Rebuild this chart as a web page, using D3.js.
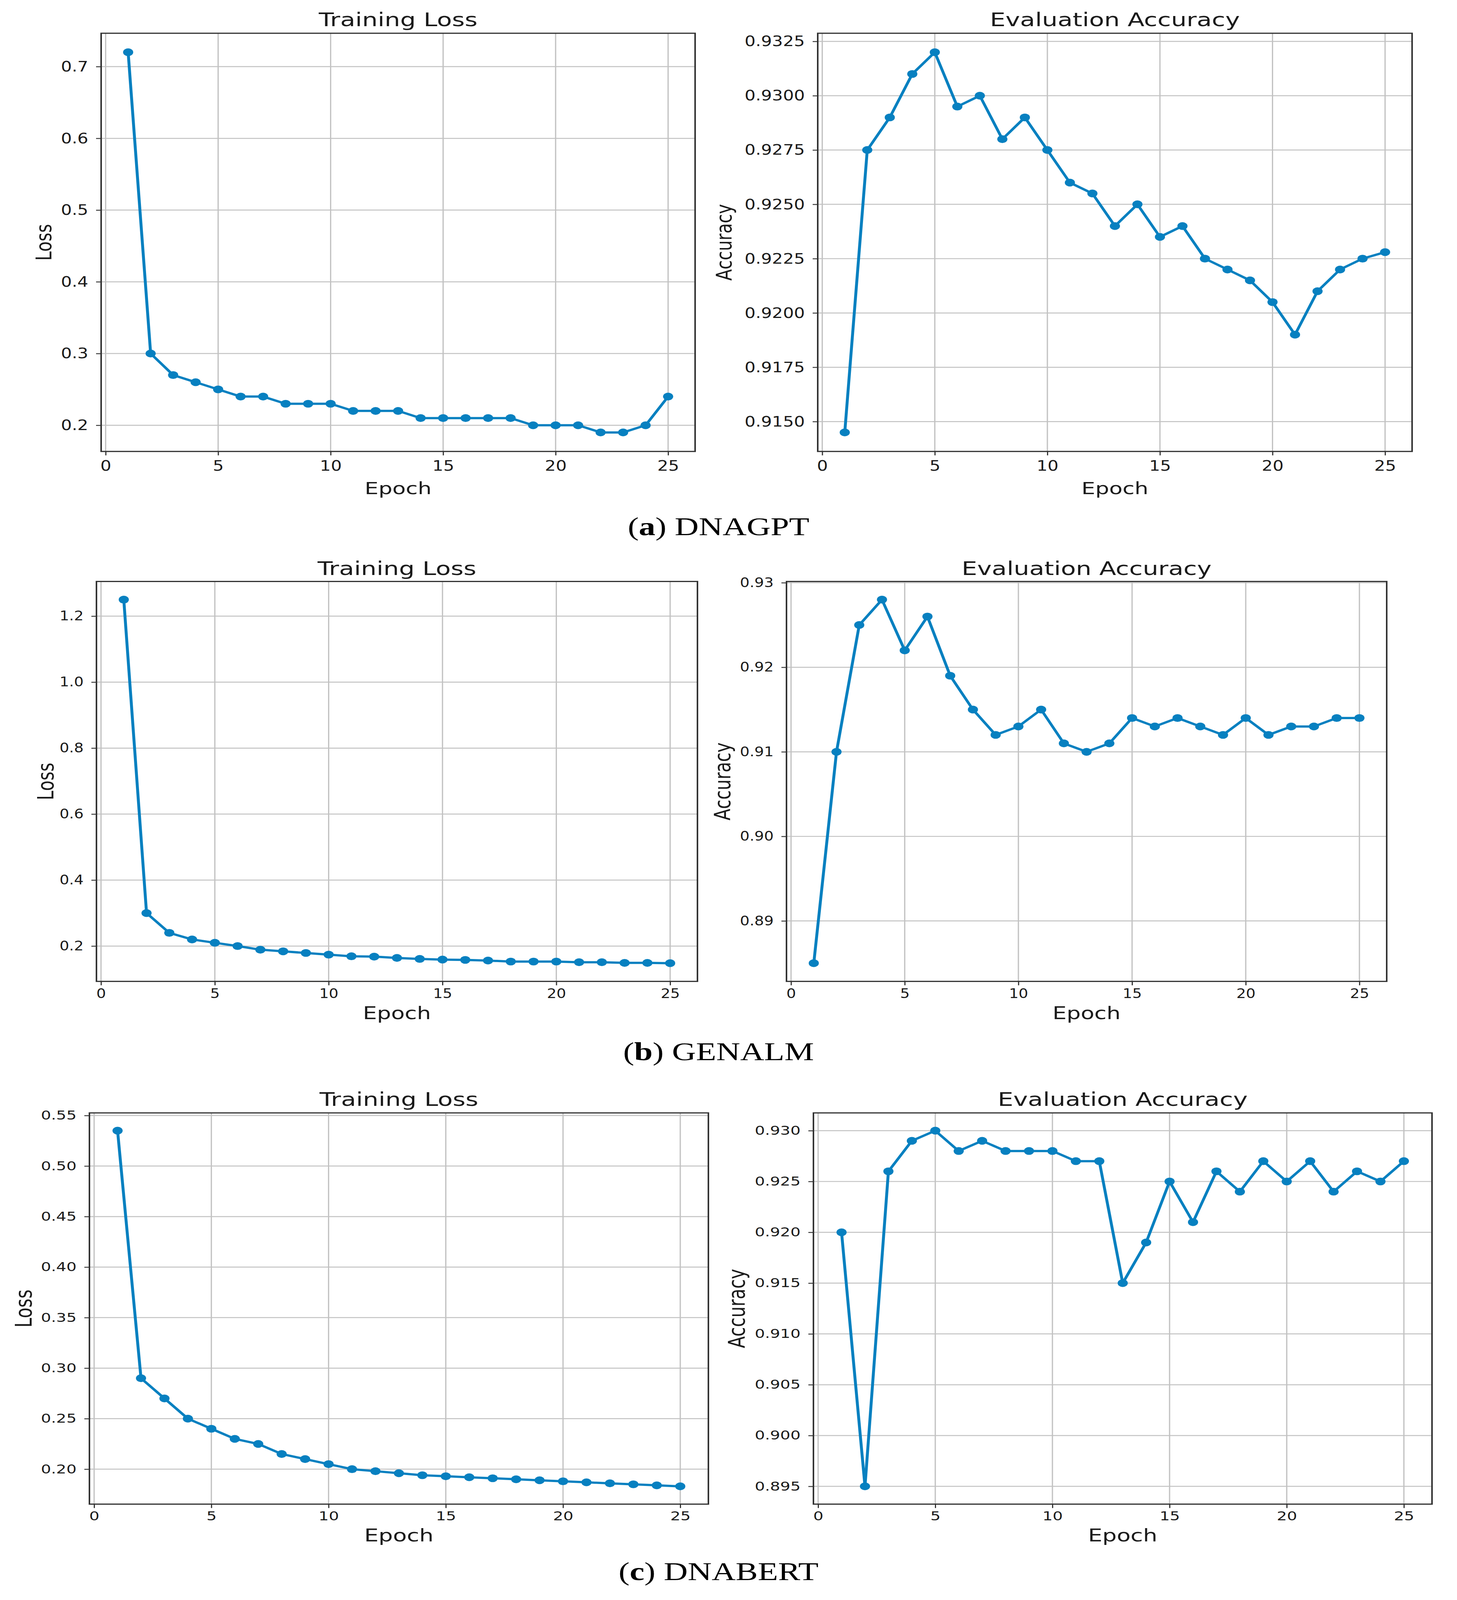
<!DOCTYPE html>
<html>
<head>
<meta charset="utf-8">
<script src="https://cdn.jsdelivr.net/npm/d3@7"></script>
<style>
html, body { margin: 0; padding: 0; background: #fff; overflow: hidden; }
#fig { display: block; width: 100vw; height: 100vh; }
svg text { font-family: "DejaVu Sans", sans-serif; fill: #1a1a1a; }
</style>
</head>
<body>
<svg id="fig" viewBox="0 0 3731 5341" preserveAspectRatio="none"></svg>
<script>
var epochs = [1, 2, 3, 4, 5, 6, 7, 8, 9, 10, 11, 12, 13, 14, 15, 16, 17, 18, 19, 20, 21, 22, 23, 24, 25];

var dnagptLoss = [0.72, 0.30, 0.27, 0.26, 0.25, 0.24, 0.24, 0.23, 0.23, 0.23, 0.22, 0.22, 0.22,
    0.21, 0.21, 0.21, 0.21, 0.21, 0.20, 0.20, 0.20, 0.19, 0.19, 0.20, 0.24];
var dnagptAcc = [0.9145, 0.9275, 0.9290, 0.9310, 0.9320, 0.9295, 0.9300, 0.9280, 0.9290, 0.9275,
    0.9260, 0.9255, 0.9240, 0.9250, 0.9235, 0.9240, 0.9225, 0.9220, 0.9215, 0.9205, 0.9190,
    0.9210, 0.9220, 0.9225, 0.9228];

var genalmLoss = [1.25, 0.30, 0.24, 0.22, 0.21, 0.20, 0.189, 0.184, 0.179, 0.174, 0.169, 0.168,
    0.164, 0.161, 0.159, 0.158, 0.156, 0.153, 0.153, 0.153, 0.151, 0.151, 0.149, 0.149, 0.148];
var genalmAcc = [0.885, 0.910, 0.925, 0.928, 0.922, 0.926, 0.919, 0.915, 0.912, 0.913, 0.915,
    0.911, 0.910, 0.911, 0.914, 0.913, 0.914, 0.913, 0.912, 0.914, 0.912, 0.913, 0.913, 0.914, 0.914];

var dnabertLoss = [0.535, 0.29, 0.27, 0.25, 0.24, 0.23, 0.225, 0.215, 0.21, 0.205, 0.20, 0.198,
    0.196, 0.194, 0.193, 0.192, 0.191, 0.190, 0.189, 0.188, 0.187, 0.186, 0.185, 0.184, 0.183];
var dnabertAcc = [0.920, 0.895, 0.926, 0.929, 0.930, 0.928, 0.929, 0.928, 0.928, 0.928, 0.927,
    0.927, 0.915, 0.919, 0.925, 0.921, 0.926, 0.924, 0.927, 0.925, 0.927, 0.924, 0.926, 0.925, 0.927];

var xTicks = [0, 5, 10, 15, 20, 25];
var dnagptLossTicks = [0.2, 0.3, 0.4, 0.5, 0.6, 0.7];
var dnagptAccTicks = [0.915, 0.9175, 0.92, 0.9225, 0.925, 0.9275, 0.93, 0.9325];
var genalmLossTicks = [0.2, 0.4, 0.6, 0.8, 1.0, 1.2];
var genalmAccTicks = [0.89, 0.90, 0.91, 0.92, 0.93];
var dnabertLossTicks = [0.20, 0.25, 0.30, 0.35, 0.40, 0.45, 0.50, 0.55];
var dnabertAccTicks = [0.895, 0.900, 0.905, 0.910, 0.915, 0.920, 0.925, 0.930];

var modelNames = ["DNAGPT", "GENALM", "DNABERT"];
var captionTags = ["a", "b", "c"];

var lineColor = "#0780c0";
var gridColor = "#c2c2c2";
var spineColor = "#333333";

// plot boxes are [left, right, top, bottom] in page pixels
var panels = [
    { box: [259, 1780, 111, 1507], values: dnagptLoss, ticks: dnagptLossTicks, fmt: ".1f",
      title: "Training Loss", ylabel: "Loss", tickFs: 49, sx: 0.9, xPad: 16,
      labelFs: 56, titleFs: 63, titleOff: 24, epochOff: 143, ylabelOff: 128 },
    { box: [2094, 3616, 111, 1507], values: dnagptAcc, ticks: dnagptAccTicks, fmt: ".4f",
      title: "Evaluation Accuracy", ylabel: "Accuracy", tickFs: 49, sx: 0.9, xPad: 16,
      labelFs: 56, titleFs: 63, titleOff: 24, epochOff: 143, ylabelOff: 221 },
    { box: [247, 1786, 1941, 3276], values: genalmLoss, ticks: genalmLossTicks, fmt: ".1f",
      title: "Training Loss", ylabel: "Loss", tickFs: 44, sx: 0.88, xPad: 12,
      labelFs: 57, titleFs: 63, titleOff: 22, epochOff: 126, ylabelOff: 110 },
    { box: [2014, 3551, 1941, 3276], values: genalmAcc, ticks: genalmAccTicks, fmt: ".2f",
      title: "Evaluation Accuracy", ylabel: "Accuracy", tickFs: 44, sx: 0.88, xPad: 12,
      labelFs: 57, titleFs: 63, titleOff: 22, epochOff: 126, ylabelOff: 144 },
    { box: [229, 1814, 3715, 5021], values: dnabertLoss, ticks: dnabertLossTicks, fmt: ".2f",
      title: "Training Loss", ylabel: "Loss", tickFs: 41, sx: 1, xPad: 12,
      labelFs: 58, titleFs: 63, titleOff: 23, epochOff: 125, ylabelOff: 148 },
    { box: [2083, 3667, 3715, 5021], values: dnabertAcc, ticks: dnabertAccTicks, fmt: ".3f",
      title: "Evaluation Accuracy", ylabel: "Accuracy", tickFs: 41, sx: 1, xPad: 12,
      labelFs: 58, titleFs: 63, titleOff: 23, epochOff: 125, ylabelOff: 176 }
];

var captionY = [1786, 3539, 5275];

// same 5% padding matplotlib uses around the data
function paddedExtent(arr) {
    var ext = d3.extent(arr);
    var pad = (ext[1] - ext[0]) * 0.05;
    return [ext[0] - pad, ext[1] + pad];
}

function drawPanel(svg, p) {
    var w = p.box[1] - p.box[0],
        h = p.box[3] - p.box[2];
    var g = svg.append("g")
        .attr("transform", "translate(" + p.box[0] + "," + p.box[2] + ")");

    var x = d3.scaleLinear().domain(paddedExtent(epochs)).range([0, w]);
    var y = d3.scaleLinear().domain(paddedExtent(p.values)).range([h, 0]);

    g.append("rect").attr("width", w).attr("height", h).attr("fill", "#fff");

    // grid
    g.selectAll(".vgrid").data(xTicks).enter().append("line")
        .attr("x1", function (d) { return x(d); })
        .attr("x2", function (d) { return x(d); })
        .attr("y1", 0).attr("y2", h)
        .attr("stroke", gridColor).attr("stroke-width", 3.2);
    g.selectAll(".hgrid").data(p.ticks).enter().append("line")
        .attr("y1", function (d) { return y(d); })
        .attr("y2", function (d) { return y(d); })
        .attr("x1", 0).attr("x2", w)
        .attr("stroke", gridColor).attr("stroke-width", 3.2);

    var pts = epochs.map(function (e, i) { return { x: e, y: p.values[i] }; });

    var lineFunc = d3.line()
        .x(function (d) { return x(d.x); })
        .y(function (d) { return y(d.y); });

    g.append("path")
        .attr("d", lineFunc(pts))
        .attr("fill", "none")
        .attr("stroke", lineColor)
        .attr("stroke-width", 7.5)
        .attr("stroke-linejoin", "round");

    g.selectAll(".dot").data(pts).enter().append("circle")
        .attr("cx", function (d) { return x(d.x); })
        .attr("cy", function (d) { return y(d.y); })
        .attr("r", 13)
        .attr("fill", lineColor);

    // axes
    var xAxis = d3.axisBottom(x).tickValues(xTicks).tickFormat(d3.format("d"))
        .tickSize(13).tickPadding(p.xPad);
    var yAxis = d3.axisLeft(y).tickValues(p.ticks).tickFormat(d3.format(p.fmt))
        .tickSize(13);

    var gx = g.append("g").attr("transform", "translate(0," + h + ")").call(xAxis);
    var gy = g.append("g").call(yAxis);

    [gx, gy].forEach(function (ax) {
        ax.select(".domain").remove();
        ax.selectAll("line").attr("stroke", spineColor).attr("stroke-width", 3);
        ax.selectAll("text")
            .attr("font-size", p.tickFs)
            .attr("font-family", "DejaVu Sans")
            .attr("fill", "#1a1a1a");
    });
    gx.selectAll("text").attr("transform", "scale(" + p.sx + ",1)");
    gy.selectAll("text")
        .attr("transform", "scale(" + p.sx + ",1)")
        .attr("x", -33 / p.sx);

    g.append("rect").attr("width", w).attr("height", h)
        .attr("fill", "none").attr("stroke", spineColor).attr("stroke-width", 4);

    g.append("text")
        .attr("x", w / 2).attr("y", -p.titleOff)
        .attr("text-anchor", "middle")
        .attr("font-size", p.titleFs)
        .text(p.title);

    g.append("text")
        .attr("x", w / 2).attr("y", h + p.epochOff)
        .attr("text-anchor", "middle")
        .attr("font-size", p.labelFs)
        .text("Epoch");

    g.append("text")
        .attr("transform", "translate(" + (-p.ylabelOff) + "," + (h / 2) + ") rotate(-90)")
        .attr("text-anchor", "middle")
        .attr("font-size", p.labelFs)
        .text(p.ylabel);
}

var svg = d3.select("#fig");
svg.append("rect").attr("width", 3731).attr("height", 5341).attr("fill", "#fff");

panels.forEach(function (p) { drawPanel(svg, p); });

modelNames.forEach(function (name, i) {
    var t = svg.append("text")
        .attr("x", 1840).attr("y", captionY[i])
        .attr("text-anchor", "middle")
        .attr("font-size", 85)
        .style("font-family", "'Liberation Serif', 'Times New Roman', serif")
        .style("fill", "#000");
    t.append("tspan").text("(");
    t.append("tspan").attr("font-weight", "bold").text(captionTags[i]);
    t.append("tspan").text(") " + name);
});
</script>
</body>
</html>
